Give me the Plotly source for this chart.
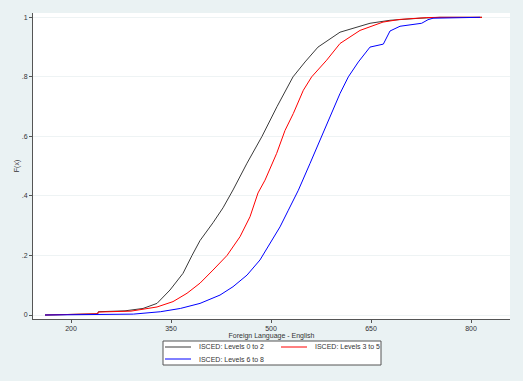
import plotly.graph_objects as go

# ECDF of English scores by parental ISCED level
names = ["ISCED: Levels 0 to 2", "ISCED: Levels 3 to 5", "ISCED: Levels 6 to 8"]
colors = ["#3a3a3a", "#ff0000", "#0000ff"]

score_low = [161, 209, 240, 241, 281, 308, 329, 348.5, 368, 381.5, 393.5, 413, 428, 443,
             464, 486.5, 509, 533, 551, 570.5, 603.5, 648.5, 678.5, 723.5, 753.5, 816.5]
ecdf_low = [0, 0.003, 0.004, 0.011, 0.014, 0.022, 0.039, 0.084, 0.14, 0.2, 0.25, 0.31, 0.36, 0.42,
            0.51, 0.6, 0.7, 0.8, 0.85, 0.9, 0.95, 0.98, 0.99, 0.997, 1.0, 1.0]

score_mid = [161, 209, 240, 241, 290, 329, 353, 374, 393.5, 413, 434, 453.5, 468.5, 480.5,
             491, 508.5, 521, 533.5, 548.5, 561, 583.5, 603.5, 633.5, 668, 693.5, 733.5, 753.5, 816.5]
ecdf_mid = [0, 0.003, 0.004, 0.010, 0.013, 0.027, 0.045, 0.073, 0.107, 0.151, 0.2, 0.263, 0.33, 0.41,
            0.453, 0.543, 0.62, 0.677, 0.755, 0.8, 0.856, 0.912, 0.956, 0.984, 0.993, 0.999, 1.0, 1.0]

score_high = [161, 281, 293.5, 334, 364, 393.5, 423.5, 443, 464, 483.5, 498.5, 513.5, 526, 541,
              558.5, 573.5, 588.5, 603.5, 616, 631, 648.5, 668.5, 678.5, 693.5, 726, 735.5, 743, 813.5]
ecdf_high = [0, 0.001, 0.003, 0.011, 0.022, 0.039, 0.067, 0.095, 0.134, 0.185, 0.24, 0.296, 0.352, 0.419,
             0.509, 0.587, 0.665, 0.744, 0.8, 0.85, 0.9, 0.91, 0.954, 0.97, 0.98, 0.992, 0.997, 1.0]

x_ticks = [200, 350, 500, 650, 800]
y_ticks = [0, 0.2, 0.4, 0.6, 0.8, 1]
y_labels = ["0", ".2", ".4", ".6", ".8", "1"]

W, H = 523, 381
L, R, T, B = 33, 13, 13, 62
pw, ph = W - L - R, H - T - B


def px(x):  # pixel -> paper x
    return (x - L) / pw


def py(y):  # pixel -> paper y
    return (H - B - y) / ph


fig = go.Figure()
for xs, ys, nm, c in zip([score_low, score_mid, score_high],
                         [ecdf_low, ecdf_mid, ecdf_high], names, colors):
    fig.add_trace(go.Scatter(x=xs, y=ys, mode="lines", name=nm,
                             line=dict(color=c, width=1), showlegend=False))

axis_font = dict(family="Liberation Sans, Arial, sans-serif", size=7, color="#333333")
fig.update_layout(
    width=W, height=H,
    margin=dict(l=L, r=R, t=T, b=B, autoexpand=False),
    paper_bgcolor="#eaf2f3",
    plot_bgcolor="white",
    font=axis_font,
    xaxis=dict(range=[143, 858.5], tickvals=x_ticks, ticks="outside", ticklen=3,
               tickcolor="#555555", showline=True, linecolor="#555555", linewidth=1,
               showgrid=False, zeroline=False, tickfont=axis_font, automargin=False,
               title=dict(text="Foreign Language - English", font=axis_font, standoff=0)),
    yaxis=dict(range=[-0.0134, 1.0145], tickvals=y_ticks, ticktext=y_labels,
               ticks="outside", ticklen=3, tickcolor="#555555", showline=True,
               linecolor="#555555", linewidth=1, gridcolor="#eef3f4", gridwidth=1,
               zeroline=False, tickfont=axis_font, automargin=False,
               title=dict(text="F(x)", font=axis_font, standoff=1)),
)

# legend box below the plot, two columns like the Stata default
fig.add_shape(type="rect", xref="paper", yref="paper",
              x0=px(163), x1=px(381), y0=py(365), y1=py(341),
              line=dict(color="#555555", width=1), fillcolor="white")
slots = [(165, 347), (281, 347), (165, 359)]
for (sx, sy), nm, c in zip(slots, names, colors):
    fig.add_shape(type="line", xref="paper", yref="paper",
                  x0=px(sx), x1=px(sx + 26), y0=py(sy), y1=py(sy),
                  line=dict(color=c, width=1))
    fig.add_annotation(text=nm, xref="paper", yref="paper", x=px(sx + 32), y=py(sy),
                       xanchor="left", yanchor="middle", showarrow=False, font=axis_font)

# drop the default page margin so the figure fills the window
fig.write_html("out.html", config={"displayModeBar": False},
               post_script="document.body.style.margin='0';")
